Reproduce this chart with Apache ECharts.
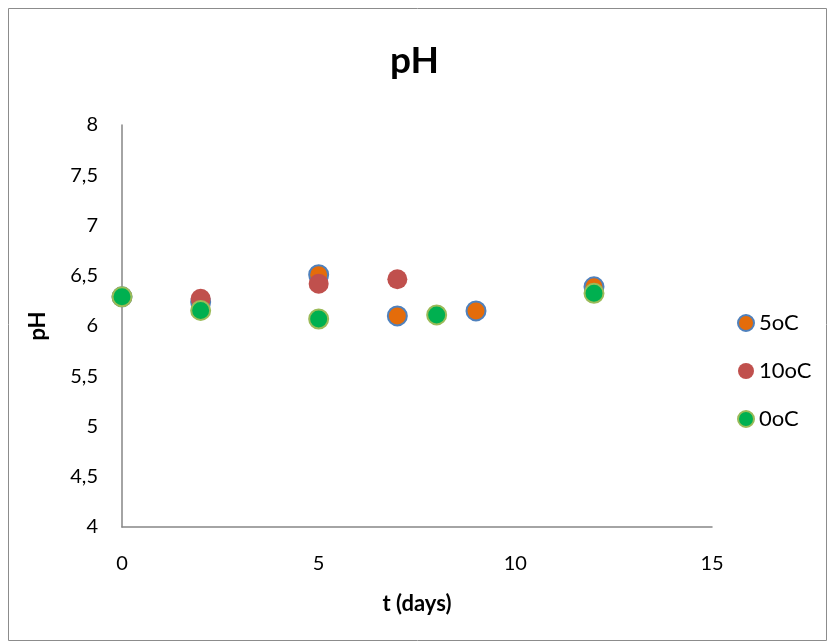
<!DOCTYPE html>
<html>
<head>
<meta charset="utf-8">
<script src="https://cdn.jsdelivr.net/npm/echarts@6/dist/echarts.min.js"></script>
<style>
  html, body { margin: 0; padding: 0; background: #fff; }
  #chart { width: 829px; height: 644px; }
</style>
</head>
<body>
<div id="chart"></div>
<script>
// pH over storage time at three temperatures
const days5 = [0, 2, 5, 7, 9, 12];
const ph5 = [6.29, 6.24, 6.51, 6.10, 6.15, 6.39];

const days10 = [0, 2, 5, 7];
const ph10 = [6.29, 6.27, 6.42, 6.465];

const days0 = [0, 2, 5, 8, 12];
const ph0 = [6.29, 6.155, 6.07, 6.11, 6.325];

const seriesNames = ['5oC', '10oC', '0oC'];
const xTicks = [0, 5, 10, 15];
const yTicks = [4, 4.5, 5, 5.5, 6, 6.5, 7, 7.5, 8];

const pairs = (xs, ys) => xs.map((x, i) => [x, ys[i]]);
const FONT = 'Lato, "Open Sans", sans-serif';

const chart = echarts.init(document.getElementById('chart'));
chart.setOption({
  backgroundColor: '#fff',
  animation: false,
  title: {
    text: 'pH',
    left: 'center',
    top: 38,
    textStyle: { fontFamily: FONT, fontSize: 37, fontWeight: 'bold', color: '#000' }
  },
  graphic: [{
    type: 'rect',
    shape: { x: 8.5, y: 8.5, width: 818, height: 632 },
    style: { fill: 'none', stroke: '#8c8c8c', lineWidth: 1 },
    silent: true
  }],
  grid: { left: 122, right: 117, top: 125, bottom: 117 },
  legend: {
    orient: 'vertical',
    left: 737,
    top: 312,
    padding: 0,
    icon: 'circle',
    itemWidth: 16,
    itemHeight: 16,
    itemGap: 26,
    data: seriesNames,
    textStyle: { fontFamily: FONT, fontSize: 22, lineHeight: 16, color: '#000' }
  },
  xAxis: {
    type: 'value',
    min: xTicks[0],
    max: xTicks[xTicks.length - 1],
    interval: 5,
    name: 't (days)',
    nameLocation: 'middle',
    nameGap: 66,
    nameTextStyle: { fontFamily: FONT, fontSize: 22, fontWeight: 'bold', color: '#000' },
    axisLine: { show: true, lineStyle: { color: '#868686', width: 1.5 } },
    axisTick: { show: false },
    splitLine: { show: false },
    axisLabel: { fontFamily: FONT, fontSize: 20, color: '#000', margin: 27 }
  },
  yAxis: {
    type: 'value',
    min: yTicks[0],
    max: yTicks[yTicks.length - 1],
    interval: 0.5,
    name: 'pH',
    nameLocation: 'middle',
    nameGap: 73,
    nameTextStyle: { fontFamily: FONT, fontSize: 22, fontWeight: 'bold', color: '#000' },
    axisLine: { show: true, lineStyle: { color: '#868686', width: 1.5 } },
    axisTick: { show: false },
    splitLine: { show: false },
    axisLabel: {
      fontFamily: FONT, fontSize: 20, color: '#000', margin: 24,
      formatter: v => String(v).replace('.', ',')
    }
  },
  series: [
    {
      name: seriesNames[0], type: 'scatter', symbol: 'circle', symbolSize: 19,
      itemStyle: { color: '#E46C0A', borderColor: '#4F81BD', borderWidth: 2, opacity: 1 },
      data: pairs(days5, ph5)
    },
    {
      name: seriesNames[1], type: 'scatter', symbol: 'circle', symbolSize: 20,
      itemStyle: { color: '#C0504D', borderColor: '#C0504D', borderWidth: 0, opacity: 1 },
      data: pairs(days10, ph10)
    },
    {
      name: seriesNames[2], type: 'scatter', symbol: 'circle', symbolSize: 19,
      itemStyle: { color: '#00B050', borderColor: '#9BBB59', borderWidth: 2, opacity: 1 },
      data: pairs(days0, ph0)
    }
  ]
});
</script>
</body>
</html>
